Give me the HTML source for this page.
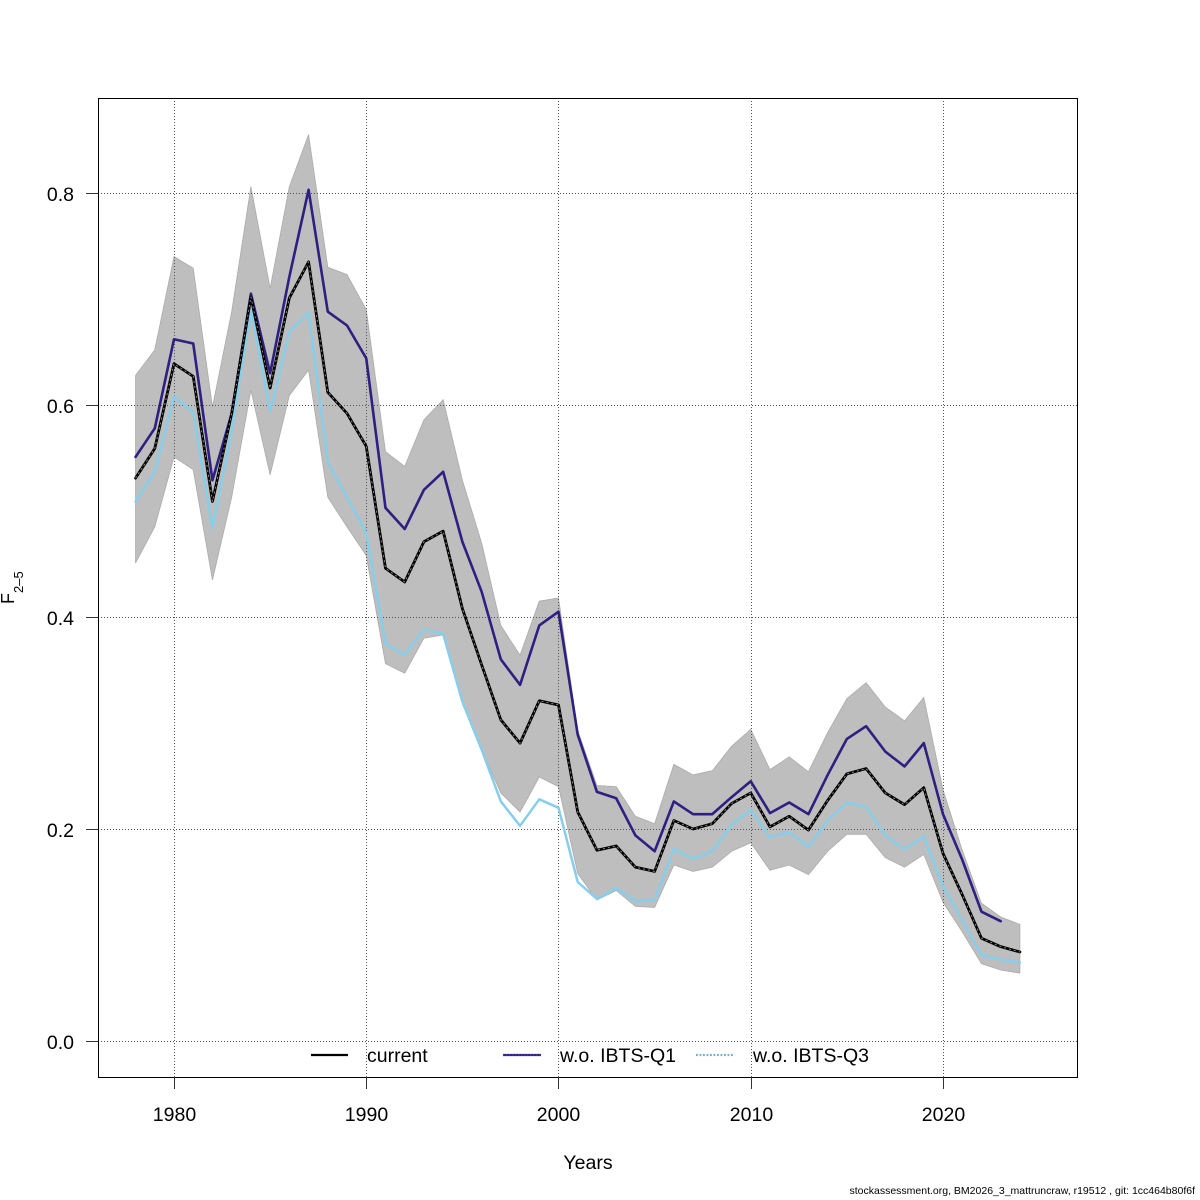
<!DOCTYPE html>
<html>
<head>
<meta charset="utf-8">
<style>
html,body{margin:0;padding:0;background:#fff;}
svg{display:block;}
text{font-family:"Liberation Sans",Arial,sans-serif;fill:#000;}
</style>
</head>
<body>
<svg width="1200" height="1200" viewBox="0 0 1200 1200" xmlns="http://www.w3.org/2000/svg">
<rect x="0" y="0" width="1200" height="1200" fill="#fff"/>
<defs>
<clipPath id="pc"><rect x="98" y="98" width="979" height="979"/></clipPath>
</defs>
<g clip-path="url(#pc)">
<g transform="matrix(19.225 0 0 -1060 -37891.5 1041)">
<polygon fill="#BEBEBE" stroke="#ababab" stroke-width="0.8" vector-effect="non-scaling-stroke" points="
1978,0.628 1979,0.652 1980,0.740 1981,0.729 1982,0.598 1983,0.688 1984,0.806 1985,0.710 1986,0.806 1987,0.855 1988,0.730 1989,0.723 1990,0.690 1991,0.556 1992,0.542 1993,0.586 1994,0.605 1995,0.529 1996,0.470 1997,0.392 1998,0.364 1999,0.415 2000,0.418 2001,0.293 2002,0.241 2003,0.240 2004,0.212 2005,0.205 2006,0.261 2007,0.251 2008,0.255 2009,0.278 2010,0.294 2011,0.256 2012,0.268 2013,0.254 2014,0.291 2015,0.323 2016,0.338 2017,0.315 2018,0.302 2019,0.324 2020,0.237 2021,0.180 2022,0.130 2023,0.117 2024,0.110
2024,0.064 2023,0.067 2022,0.073 2021,0.103 2020,0.131 2019,0.176 2018,0.164 2017,0.173 2016,0.195 2015,0.195 2014,0.179 2013,0.157 2012,0.166 2011,0.161 2010,0.187 2009,0.179 2008,0.164 2007,0.160 2006,0.166 2005,0.126 2004,0.127 2003,0.142 2002,0.133 2001,0.158 2000,0.240 1999,0.249 1998,0.216 1997,0.234 1996,0.275 1995,0.319 1994,0.383 1993,0.380 1992,0.347 1991,0.356 1990,0.458 1989,0.485 1988,0.513 1987,0.633 1986,0.609 1985,0.534 1984,0.614 1983,0.513 1982,0.435 1981,0.539 1980,0.551 1979,0.485 1978,0.451"/>
</g>
<g stroke="#555" stroke-width="1" stroke-dasharray="1,2" fill="none">
<line x1="174.5" y1="98" x2="174.5" y2="1077"/>
<line x1="366.5" y1="98" x2="366.5" y2="1077"/>
<line x1="558.5" y1="98" x2="558.5" y2="1077"/>
<line x1="751.5" y1="98" x2="751.5" y2="1077"/>
<line x1="943.5" y1="98" x2="943.5" y2="1077"/>
<line x1="98" y1="1041.5" x2="1077" y2="1041.5"/>
<line x1="98" y1="829.5" x2="1077" y2="829.5"/>
<line x1="98" y1="617.5" x2="1077" y2="617.5"/>
<line x1="98" y1="405.5" x2="1077" y2="405.5"/>
<line x1="98" y1="193.5" x2="1077" y2="193.5"/>
</g>
<g transform="matrix(19.225 0 0 -1060 -37891.5 1041)" fill="none" stroke-linejoin="round" stroke-linecap="round">
<polyline stroke="#87CEEB" stroke-width="2.5" vector-effect="non-scaling-stroke" points="1978,0.509 1979,0.537 1980,0.608 1981,0.593 1982,0.484 1983,0.576 1984,0.690 1985,0.594 1986,0.669 1987,0.687 1988,0.546 1989,0.513 1990,0.479 1991,0.375 1992,0.364 1993,0.388 1994,0.384 1995,0.320 1996,0.275 1997,0.226 1998,0.203 1999,0.228 2000,0.220 2001,0.150 2002,0.134 2003,0.144 2004,0.132 2005,0.133 2006,0.181 2007,0.172 2008,0.179 2009,0.204 2010,0.218 2011,0.192 2012,0.197 2013,0.183 2014,0.208 2015,0.225 2016,0.221 2017,0.194 2018,0.181 2019,0.193 2020,0.146 2021,0.114 2022,0.081 2023,0.077 2024,0.074"/>
<polyline stroke="#2E1F80" stroke-width="2.6" vector-effect="non-scaling-stroke" points="1978,0.551 1979,0.578 1980,0.662 1981,0.658 1982,0.529 1983,0.592 1984,0.705 1985,0.630 1986,0.721 1987,0.803 1988,0.688 1989,0.675 1990,0.644 1991,0.503 1992,0.483 1993,0.520 1994,0.537 1995,0.471 1996,0.424 1997,0.360 1998,0.336 1999,0.392 2000,0.405 2001,0.289 2002,0.235 2003,0.229 2004,0.194 2005,0.179 2006,0.226 2007,0.214 2008,0.214 2009,0.230 2010,0.245 2011,0.215 2012,0.225 2013,0.214 2014,0.251 2015,0.285 2016,0.297 2017,0.273 2018,0.259 2019,0.281 2020,0.214 2021,0.171 2022,0.122 2023,0.113"/>
<polyline stroke="#000" stroke-width="2.8" vector-effect="non-scaling-stroke" points="1978,0.531 1979,0.559 1980,0.639 1981,0.627 1982,0.509 1983,0.592 1984,0.702 1985,0.616 1986,0.701 1987,0.735 1988,0.612 1989,0.592 1990,0.561 1991,0.446 1992,0.433 1993,0.471 1994,0.481 1995,0.408 1996,0.355 1997,0.303 1998,0.281 1999,0.321 2000,0.317 2001,0.216 2002,0.180 2003,0.184 2004,0.164 2005,0.160 2006,0.208 2007,0.200 2008,0.205 2009,0.224 2010,0.234 2011,0.202 2012,0.212 2013,0.199 2014,0.227 2015,0.252 2016,0.257 2017,0.234 2018,0.223 2019,0.239 2020,0.177 2021,0.138 2022,0.097 2023,0.089 2024,0.084"/>
<polyline stroke="#8a8a8a" stroke-width="1" stroke-dasharray="2,3" stroke-linecap="butt" vector-effect="non-scaling-stroke" points="1978,0.531 1979,0.559 1980,0.639 1981,0.627 1982,0.509 1983,0.592 1984,0.702 1985,0.616 1986,0.701 1987,0.735 1988,0.612 1989,0.592 1990,0.561 1991,0.446 1992,0.433 1993,0.471 1994,0.481 1995,0.408 1996,0.355 1997,0.303 1998,0.281 1999,0.321 2000,0.317 2001,0.216 2002,0.180 2003,0.184 2004,0.164 2005,0.160 2006,0.208 2007,0.200 2008,0.205 2009,0.224 2010,0.234 2011,0.202 2012,0.212 2013,0.199 2014,0.227 2015,0.252 2016,0.257 2017,0.234 2018,0.223 2019,0.239 2020,0.177 2021,0.138 2022,0.097 2023,0.089 2024,0.084"/>
</g>
</g>
<rect x="98.5" y="98.5" width="979" height="979" fill="none" stroke="#000" stroke-width="1"/>
<g stroke="#333" stroke-width="1">
<line x1="174.5" y1="1077" x2="174.5" y2="1089"/>
<line x1="366.5" y1="1077" x2="366.5" y2="1089"/>
<line x1="558.5" y1="1077" x2="558.5" y2="1089"/>
<line x1="751.5" y1="1077" x2="751.5" y2="1089"/>
<line x1="943.5" y1="1077" x2="943.5" y2="1089"/>
<line x1="86" y1="1041.5" x2="98" y2="1041.5"/>
<line x1="86" y1="829.5" x2="98" y2="829.5"/>
<line x1="86" y1="617.5" x2="98" y2="617.5"/>
<line x1="86" y1="405.5" x2="98" y2="405.5"/>
<line x1="86" y1="193.5" x2="98" y2="193.5"/>
</g>
<g font-size="19.5" text-anchor="middle">
<text x="174.5" y="1121">1980</text>
<text x="366.5" y="1121">1990</text>
<text x="558.5" y="1121">2000</text>
<text x="751.5" y="1121">2010</text>
<text x="943.5" y="1121">2020</text>
</g>
<g font-size="19.5" text-anchor="end">
<text x="74" y="1049">0.0</text>
<text x="74" y="837">0.2</text>
<text x="74" y="625">0.4</text>
<text x="74" y="413">0.6</text>
<text x="74" y="201">0.8</text>
</g>
<text x="588" y="1169" font-size="19.5" text-anchor="middle">Years</text>
<text transform="translate(14,604) rotate(-90)" font-size="18">F<tspan font-size="13" dy="9">2–5</tspan></text>
<line x1="311" y1="1055" x2="348" y2="1055" stroke="#000" stroke-width="2.2"/>
<text x="367" y="1062" font-size="19.5">current</text>
<line x1="503" y1="1055" x2="541" y2="1055" stroke="#2E1F80" stroke-width="2.2"/>
<line x1="503" y1="1055" x2="541" y2="1055" stroke="#6a5cc0" stroke-width="0.8" stroke-dasharray="1.5,1.5"/>
<text x="560" y="1062" font-size="19.5">w.o. IBTS-Q1</text>
<line x1="696" y1="1055" x2="734" y2="1055" stroke="#87CEEB" stroke-width="2.2" stroke-dasharray="2,1.5"/>
<line x1="696" y1="1055" x2="734" y2="1055" stroke="#3a5a70" stroke-width="0.6" stroke-dasharray="1.5,2"/>
<text x="753" y="1062" font-size="19.5">w.o. IBTS-Q3</text>
<text x="1195" y="1194" font-size="10.5" text-anchor="end">stockassessment.org, BM2026_3_mattruncraw, r19512 , git: 1cc464b80f6f</text>
</svg>
</body>
</html>
